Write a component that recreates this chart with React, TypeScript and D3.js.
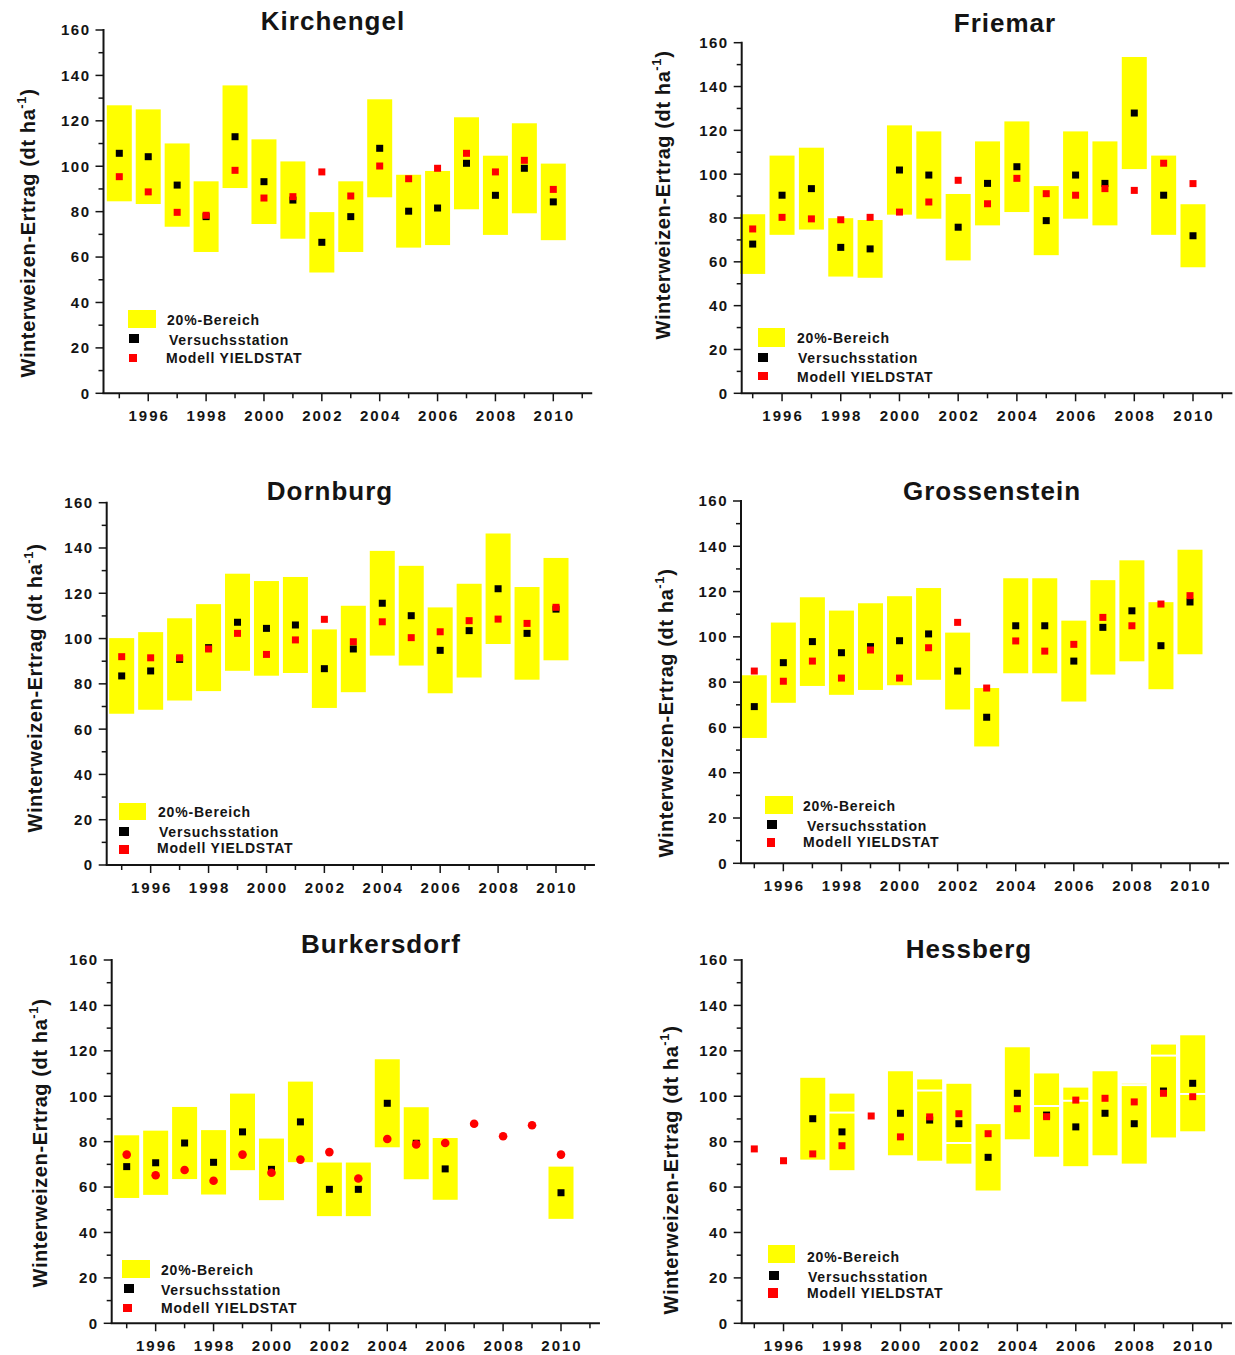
import React from "react";
import * as d3 from "d3";

// ---------- data ----------
const years = [1995, 1996, 1997, 1998, 1999, 2000, 2001, 2002, 2003, 2004, 2005, 2006, 2007, 2008, 2009, 2010];
const xTickLabels = [1996, 1998, 2000, 2002, 2004, 2006, 2008, 2010];
const xMinorTicks = [1995, 1997, 1999, 2001, 2003, 2005, 2007, 2009, 2011];
const yMajorTicks = [0, 20, 40, 60, 80, 100, 120, 140, 160];
const yMinorTicks = [10, 30, 50, 70, 90, 110, 130, 150];
const bandShare = 0.2; // "20%-Bereich" around the station value

const kirchengelStation = [105.7, 104.2, 91.7, 77.8, 113.0, 93.2, 85.1, 66.5, 77.8, 107.9, 80.2, 81.6, 101.3, 87.2, 99.1, 84.3];
const kirchengelModel = [95.4, 88.7, 79.7, 78.4, 98.2, 86.0, 86.6, 97.5, 86.9, 100.1, 94.5, 99.1, 105.7, 97.5, 102.6, 89.8];

const friemarStation = [68.1, 90.4, 93.4, 66.6, 65.9, 101.9, 99.6, 75.8, 95.8, 103.4, 78.8, 99.6, 95.8, 127.9, 90.4, 71.9];
const friemarModel = [75.0, 80.3, 79.6, 79.2, 80.3, 82.7, 87.3, 97.2, 86.5, 98.1, 91.1, 90.4, 93.4, 92.6, 105.0, 95.7];

const dornburgStation = [83.5, 85.7, 90.8, 96.0, 107.2, 104.5, 106.0, 86.7, 95.4, 115.6, 110.1, 94.8, 103.5, 122.0, 102.3, 113.0];
const dornburgModel = [92.0, 91.5, 91.5, 95.4, 102.3, 93.0, 99.4, 108.5, 98.6, 107.4, 100.4, 103.0, 107.9, 108.6, 106.7, 113.8];

const grossensteinStation = [69.2, 88.6, 97.9, 93.0, 95.7, 98.3, 101.3, 84.9, 64.5, 104.9, 104.9, 89.3, 104.2, 111.5, 96.1, 115.4];
const grossensteinModel = [84.9, 80.4, 89.3, 81.8, 94.2, 81.8, 95.2, 106.4, 77.4, 98.2, 93.7, 96.7, 108.6, 104.9, 114.5, 118.2];

const burkersdorfStation = [69.0, 70.7, 79.4, 70.9, 84.3, 67.8, 88.7, 59.0, 59.0, 96.9, 79.3, 68.0, null, null, null, 57.5];
const burkersdorfModel = [74.3, 65.2, 67.5, 62.8, 74.3, 66.3, 72.1, 75.4, 63.8, 81.2, 78.8, 79.4, 87.9, 82.4, 87.2, 74.3];

const hessbergStation = [null, null, 90.1, 84.3, null, 92.5, 89.5, 87.9, 73.1, 101.3, 91.7, 86.5, 92.5, 87.9, 102.3, 105.7];
const hessbergModel = [76.8, 71.6, 74.6, 78.2, 91.3, 82.1, 90.9, 92.3, 83.5, 94.5, 91.0, 98.3, 99.1, 97.5, 101.3, 99.8];
const hessbergGaps = [null, null, null, 92.8, null, null, 102.5, 79.4, null, null, 95.7, 98.0, null, 104.9, 117.9, 101.0];

const legendLabels = ["20%-Bereich", "Versuchsstation", "Modell YIELDSTAT"];
const yAxisTitle = "Winterweizen-Ertrag (dt ha";

// ---------- layout ----------
type Legend = {
  rect: number[]; t1: number[]; black: number[]; t2: number[]; red: number[]; t3: number[];
};
type Panel = {
  title: string; station: (number | null)[]; model: number[]; gaps?: (number | null)[];
  roundModel?: boolean;
  titleX: number; titleY: number;
  axisLeft: number; x1995: number; x2010: number; y0: number; y160: number;
  labelX: number; labelY: number; legend: Legend;
};

const panels: Panel[] = [
  {
    title: "Kirchengel", station: kirchengelStation, model: kirchengelModel,
    titleX: 333, titleY: 30, axisLeft: 103.5, x1995: 119.3, x2010: 553.3, y0: 393.3, y160: 30,
    labelX: 28, labelY: 233,
    legend: { rect: [128, 310, 28, 18], t1: [167, 325], black: [129, 334, 10, 9], t2: [169, 345], red: [129, 354, 8, 8], t3: [166, 363] },
  },
  {
    title: "Friemar", station: friemarStation, model: friemarModel,
    titleX: 1005, titleY: 32, axisLeft: 741.7, x1995: 752.7, x2010: 1193, y0: 393.3, y160: 42.7,
    labelX: 663, labelY: 195,
    legend: { rect: [758, 328, 27, 19], t1: [797, 343], black: [758, 353, 10, 9], t2: [798, 363], red: [758, 372, 10, 8], t3: [797, 382] },
  },
  {
    title: "Dornburg", station: dornburgStation, model: dornburgModel,
    titleX: 330, titleY: 500, axisLeft: 106.7, x1995: 121.7, x2010: 556, y0: 865, y160: 502.7,
    labelX: 35, labelY: 688,
    legend: { rect: [119, 803, 27, 17], t1: [158, 817], black: [119, 827, 10, 9], t2: [159, 837], red: [119, 845, 10, 9], t3: [157, 853] },
  },
  {
    title: "Grossenstein", station: grossensteinStation, model: grossensteinModel,
    titleX: 992, titleY: 500, axisLeft: 741, x1995: 754.3, x2010: 1190, y0: 863.3, y160: 501,
    labelX: 666, labelY: 713,
    legend: { rect: [765, 796, 28, 18], t1: [803, 811], black: [767, 820, 10, 9], t2: [807, 831], red: [767, 838, 8, 9], t3: [803, 847] },
  },
  {
    title: "Burkersdorf", station: burkersdorfStation, model: burkersdorfModel, roundModel: true,
    titleX: 381, titleY: 953, axisLeft: 111.7, x1995: 126.7, x2010: 561, y0: 1323.3, y160: 960,
    labelX: 40, labelY: 1143,
    legend: { rect: [122, 1260, 28, 18], t1: [161, 1275], black: [124, 1284, 10, 9], t2: [161, 1295], red: [123, 1304, 9, 8], t3: [161, 1313] },
  },
  {
    title: "Hessberg", station: hessbergStation, model: hessbergModel, gaps: hessbergGaps,
    titleX: 969, titleY: 958, axisLeft: 741.7, x1995: 754.3, x2010: 1192.7, y0: 1323.3, y160: 960,
    labelX: 671, labelY: 1170,
    legend: { rect: [768, 1245, 27, 18], t1: [807, 1262], black: [769, 1271, 10, 9], t2: [808, 1282], red: [768, 1288, 10, 10], t3: [807, 1298] },
  },
];

const FONT = "'Liberation Sans', Arial, Helvetica, sans-serif";
const INK = "#141414";
const BAR_W = 25;
const MARK = 7;

function ChartPanel({ p }: { p: Panel }) {
  const x = d3.scaleLinear().domain([1995, 2010]).range([p.x1995, p.x2010]);
  const y = d3.scaleLinear().domain([0, 160]).range([p.y0, p.y160]);
  const axisRight = x(2011) + 10;
  const L = p.legend;
  return (
    <g>
      {/* 20% bands */}
      {years.map((yr, i) => {
        const s = p.station[i];
        if (s == null) return null;
        const lo = s * (1 - bandShare);
        const hi = s * (1 + bandShare);
        return (
          <rect key={"b" + yr} x={x(yr) - BAR_W / 2} y={y(hi)} width={BAR_W} height={y(lo) - y(hi)} fill="#FFFF00" />
        );
      })}
      {p.gaps &&
        years.map((yr, i) => {
          const g = p.gaps![i];
          if (g == null) return null;
          return (
            <line key={"g" + yr} x1={x(yr) - BAR_W / 2 - 1} x2={x(yr) + BAR_W / 2 + 1} y1={y(g)} y2={y(g)} stroke="#fff" strokeWidth={2} />
          );
        })}
      {/* station */}
      {years.map((yr, i) => {
        const s = p.station[i];
        if (s == null) return null;
        return <rect key={"s" + yr} x={x(yr) - MARK / 2} y={y(s) - MARK / 2} width={MARK} height={MARK} fill="#000" />;
      })}
      {/* model */}
      {years.map((yr, i) => {
        const m = p.model[i];
        if (m == null) return null;
        if (p.roundModel) {
          return <circle key={"m" + yr} cx={x(yr)} cy={y(m)} r={4.3} fill="#FF0000" />;
        }
        return <rect key={"m" + yr} x={x(yr) - MARK / 2} y={y(m) - MARK / 2} width={MARK} height={MARK} fill="#FF0000" />;
      })}

      {/* axes */}
      <line x1={p.axisLeft} x2={p.axisLeft} y1={y(160) - 1} y2={p.y0} stroke={INK} strokeWidth={2} />
      <line x1={p.axisLeft - 1} x2={axisRight} y1={p.y0} y2={p.y0} stroke={INK} strokeWidth={2} />
      {yMajorTicks.map((v) => (
        <g key={"ym" + v}>
          <line x1={p.axisLeft - 8} x2={p.axisLeft} y1={y(v)} y2={y(v)} stroke={INK} strokeWidth={1.5} />
          <text x={p.axisLeft - 13} y={y(v)} dy="0.36em" textAnchor="end" fontFamily={FONT} fontWeight="bold" fontSize={15} letterSpacing={1.5} fill={INK}>
            {v}
          </text>
        </g>
      ))}
      {yMinorTicks.map((v) => (
        <line key={"yn" + v} x1={p.axisLeft - 5} x2={p.axisLeft} y1={y(v)} y2={y(v)} stroke={INK} strokeWidth={1.5} />
      ))}
      {xTickLabels.map((v) => (
        <g key={"xm" + v}>
          <line x1={x(v)} x2={x(v)} y1={p.y0} y2={p.y0 + 8} stroke={INK} strokeWidth={1.5} />
          <text x={x(v) + 1} y={p.y0 + 28} textAnchor="middle" fontFamily={FONT} fontWeight="bold" fontSize={15} letterSpacing={2} fill={INK}>
            {v}
          </text>
        </g>
      ))}
      {xMinorTicks.map((v) => (
        <line key={"xn" + v} x1={x(v)} x2={x(v)} y1={p.y0} y2={p.y0 + 5} stroke={INK} strokeWidth={1.5} />
      ))}

      {/* title */}
      <text x={p.titleX} y={p.titleY} textAnchor="middle" fontFamily={FONT} fontWeight="bold" fontSize={26} letterSpacing={1} fill={INK}>
        {p.title}
      </text>

      {/* y-axis title */}
      <text
        transform={`translate(${p.labelX},${p.labelY}) rotate(-90)`}
        textAnchor="middle"
        dy="0.36em"
        fontFamily={FONT}
        fontWeight="bold"
        fontSize={20}
        letterSpacing={0.6}
        fill={INK}
      >
        {yAxisTitle}
        <tspan fontSize={13} dy={-9}>-1</tspan>
        <tspan dy={9}>)</tspan>
      </text>

      {/* legend */}
      <rect x={L.rect[0]} y={L.rect[1]} width={L.rect[2]} height={L.rect[3]} fill="#FFFF00" />
      <rect x={L.black[0]} y={L.black[1]} width={L.black[2]} height={L.black[3]} fill="#000" />
      <rect x={L.red[0]} y={L.red[1]} width={L.red[2]} height={L.red[3]} fill="#FF0000" />
      {[L.t1, L.t2, L.t3].map((t, i) => (
        <text key={"lt" + i} x={t[0]} y={t[1]} fontFamily={FONT} fontWeight="bold" fontSize={14} letterSpacing={0.8} fill={INK}>
          {legendLabels[i]}
        </text>
      ))}
    </g>
  );
}

export default function App() {
  return (
    <svg
      width={1235}
      height={1355}
      viewBox="0 0 1235 1355"
      style={{ position: "absolute", left: 0, top: 0, display: "block", background: "#fff" }}
    >
      <rect x={0} y={0} width={1235} height={1355} fill="#fff" />
      {panels.map((p) => (
        <ChartPanel key={p.title} p={p} />
      ))}
    </svg>
  );
}
